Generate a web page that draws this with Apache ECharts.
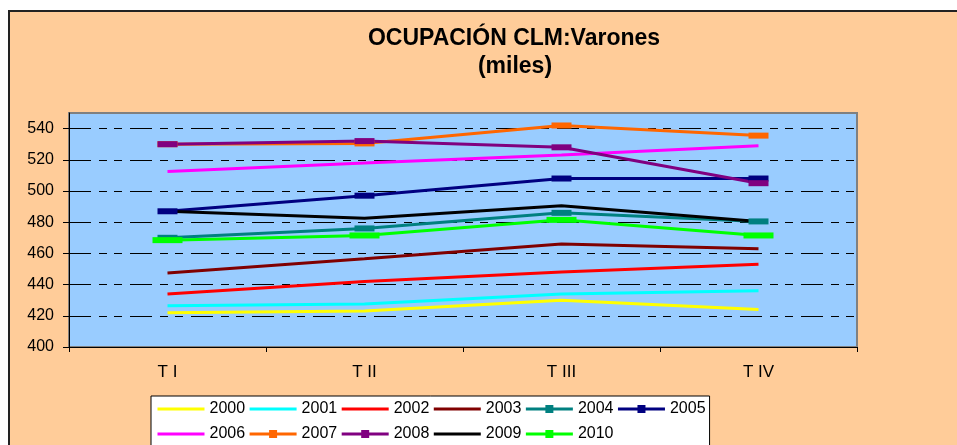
<!DOCTYPE html>
<html>
<head>
<meta charset="utf-8">
<script src="https://cdn.jsdelivr.net/npm/echarts@6/dist/echarts.min.js"></script>
<style>
  html, body { margin: 0; padding: 0; background: #fff; }
  #chart { width: 957px; height: 445px; }
</style>
</head>
<body>
<div id="chart"></div>
<script>
// Trimestres
const quarters = ['T I', 'T II', 'T III', 'T IV']
const years = ['2000', '2001', '2002', '2003', '2004', '2005', '2006', '2007', '2008', '2009', '2010']

// Ocupados varones (miles)
const y2000 = [422, 423, 430, 424]
const y2001 = [426.5, 427.5, 434, 436]
const y2002 = [434, 442, 448, 453]
const y2003 = [447.5, 456.5, 466, 463]
const y2004 = [470, 476, 486, 480.5]
const y2005 = [487, 497, 508, 508]
const y2006 = [512.5, 518, 523, 529]
const y2007 = [530, 530.5, 542, 535.5]
const y2008 = [530, 532, 528, 505]
const y2009 = [487, 482.5, 490.5, 480.5]
const y2010 = [468.5, 471.5, 481.5, 471.5]

const yMin = 400
const yMax = 550
const yStep = 20

const values = [y2000, y2001, y2002, y2003, y2004, y2005, y2006, y2007, y2008, y2009, y2010]
const colors = ['#FFFF00', '#00FFFF', '#FF0000', '#800000', '#008080', '#000080',
  '#FF00FF', '#FF6600', '#800080', '#000000', '#00FF00']
// series that carry markers in the original
const markers = { '2004': [20, 6], '2005': [20, 6], '2007': [20, 6], '2008': [20, 6], '2010': [30, 6] }

const font = 'Arial, "Liberation Sans", sans-serif'

const series = years.map((y, i) => ({
  name: y,
  type: 'line',
  data: values[i],
  symbol: markers[y] ? 'rect' : 'none',
  symbolSize: markers[y] || 0,
  showSymbol: !!markers[y],
  itemStyle: { color: colors[i] },
  lineStyle: { color: colors[i], width: 3 },
  emphasis: { disabled: true },
  animation: false
}))

// plain line in the legend for series without markers
const legendData = years.map(y => markers[y]
  ? { name: y }
  : { name: y, itemStyle: { color: 'rgba(0,0,0,0)', borderWidth: 0 } })

const chart = echarts.init(document.getElementById('chart'), null, { renderer: 'canvas' })

chart.setOption({
  animation: false,
  graphic: [
    {
      type: 'rect',
      z: -10,
      shape: { x: 9, y: 11, width: 1100, height: 600 },
      style: { fill: '#FFCC99', stroke: '#222', lineWidth: 2 }
    },
    {
      type: 'text',
      x: 514,
      y: 39,
      style: { text: 'OCUPACIÓN CLM:Varones', font: 'bold 23px ' + font, fill: '#000', align: 'center', verticalAlign: 'middle' }
    },
    {
      type: 'text',
      x: 515,
      y: 67,
      style: { text: '(miles)', font: 'bold 23px ' + font, fill: '#000', align: 'center', verticalAlign: 'middle' }
    }
  ],
  tooltip: { show: false },
  legend: {
    data: legendData,
    left: 151,
    top: 396,
    width: 570,
    itemWidth: 47,
    itemHeight: 10,
    itemGap: 3,
    padding: [2, 4, 10, 5],
    backgroundColor: '#fff',
    borderColor: '#000',
    borderWidth: 1,
    borderRadius: 0,
    selectedMode: false,
    lineStyle: { width: 3 },
    textStyle: { color: '#000', fontSize: 16, fontFamily: font, lineHeight: 22 }
  },
  grid: {
    show: true,
    left: 69,
    right: 100,
    top: 113,
    bottom: 98,
    backgroundColor: '#99CCFF',
    borderColor: '#808080',
    borderWidth: 2
  },
  xAxis: {
    type: 'category',
    data: quarters,
    boundaryGap: true,
    axisLine: { lineStyle: { color: '#000', width: 1 } },
    axisTick: { show: true, length: 5, lineStyle: { color: '#000' } },
    axisLabel: { color: '#000', fontSize: 17, fontFamily: font, margin: 17 },
    splitLine: { show: false }
  },
  yAxis: {
    type: 'value',
    min: yMin,
    max: yMax,
    interval: yStep,
    axisLine: { show: true, lineStyle: { color: '#000', width: 1 } },
    axisTick: { show: true, length: 6, lineStyle: { color: '#000' } },
    axisLabel: {
      color: '#000',
      fontSize: 16,
      fontFamily: font,
      margin: 15,
      showMaxLabel: false,
      formatter: v => (v > 540 ? '' : v)
    },
    splitLine: {
      show: true,
      showMinLine: false,
      showMaxLine: false,
      lineStyle: { color: '#000', width: 1, type: [22, 8, 8, 7, 8, 8] }
    }
  },
  series: series
})
</script>
</body>
</html>
